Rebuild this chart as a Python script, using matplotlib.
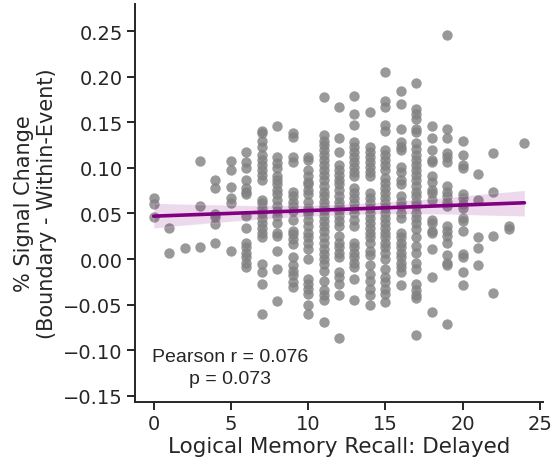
#!/usr/bin/env python3
"""
Boundary signal change vs. delayed logical memory recall.
"""

import numpy as np
import matplotlib
matplotlib.use("Agg")
import matplotlib.pyplot as plt
import seaborn as sns

# Signal change values per recall score (0..24)
s00 = [0.067, 0.060, 0.046]
s01 = [0.034, 0.007]
s02 = [0.012]
s03 = [0.108, 0.058, 0.013]
s04 = [0.087, 0.078, 0.049, 0.046, 0.038, 0.018]
s05 = [0.108, 0.098, 0.079, 0.067, 0.062, 0.009]
s06 = [0.118, 0.107, 0.100, 0.087, 0.078, 0.074, 0.071, 0.047, 0.034,
       0.018, 0.013, 0.007, 0.002, -0.004, -0.009]
s07 = [0.141, 0.138, 0.130, 0.123, 0.114, 0.109, 0.103, 0.098, 0.092,
       0.087, 0.065, 0.062, 0.056, 0.051, 0.045, 0.040, 0.034, 0.029,
       0.024, -0.005, -0.014, -0.027, -0.060]
s08 = [0.146, 0.112, 0.105, 0.100, 0.091, 0.087, 0.082, 0.076, 0.071,
       0.065, 0.058, 0.053, 0.047, 0.040, 0.029, 0.025, 0.009, -0.011,
       -0.046]
s09 = [0.138, 0.134, 0.112, 0.107, 0.074, 0.069, 0.063, 0.058, 0.053,
       0.043, 0.031, 0.027, 0.022, 0.016, 0.002, -0.007, -0.013, -0.018,
       -0.025, -0.031]
s10 = [0.112, 0.109, 0.098, 0.091, 0.085, 0.082, 0.076, 0.071, 0.063,
       0.056, 0.053, 0.049, 0.043, 0.036, 0.029, 0.024, 0.018, 0.011,
       0.000, -0.022, -0.027, -0.033, -0.038, -0.051, -0.060]
s11 = [0.178, 0.136, 0.130, 0.125, 0.120, 0.114, 0.109, 0.103, 0.098,
       0.092, 0.087, 0.080, 0.074, 0.069, 0.063, 0.058, 0.053, 0.047,
       0.042, 0.036, 0.031, 0.024, 0.018, 0.011, 0.005, 0.000, -0.005,
       -0.013, -0.024, -0.034, -0.040, -0.045, -0.069]
s12 = [0.167, 0.133, 0.118, 0.103, 0.098, 0.092, 0.087, 0.082, 0.076,
       0.069, 0.063, 0.058, 0.053, 0.047, 0.042, 0.036, 0.025, 0.018,
       0.013, 0.007, 0.002, -0.014, -0.020, -0.027, -0.040, -0.087]
s13 = [0.179, 0.159, 0.147, 0.129, 0.123, 0.118, 0.112, 0.107, 0.101,
       0.096, 0.091, 0.078, 0.073, 0.067, 0.062, 0.056, 0.051, 0.043,
       0.036, 0.018, 0.013, 0.007, 0.002, -0.004, -0.009, -0.022, -0.045]
s14 = [0.161, 0.123, 0.118, 0.112, 0.107, 0.101, 0.096, 0.091, 0.072,
       0.067, 0.062, 0.056, 0.051, 0.045, 0.040, 0.034, 0.029, 0.024,
       0.018, 0.009, 0.004, -0.007, -0.016, -0.024, -0.033, -0.040, -0.051]
s15 = [0.205, 0.174, 0.167, 0.147, 0.141, 0.120, 0.114, 0.109, 0.103,
       0.098, 0.089, 0.083, 0.078, 0.072, 0.067, 0.062, 0.056, 0.051,
       0.045, 0.040, 0.034, 0.029, 0.024, 0.018, 0.013, 0.007, 0.000,
       -0.011, -0.020, -0.025, -0.033, -0.038, -0.047]
s16 = [0.185, 0.170, 0.143, 0.129, 0.123, 0.120, 0.101, 0.096, 0.087,
       0.082, 0.069, 0.063, 0.058, 0.051, 0.045, 0.029, 0.024, 0.018,
       0.013, 0.007, 0.002, -0.004, -0.009, -0.014, -0.029]
s17 = [0.193, 0.165, 0.159, 0.154, 0.143, 0.139, 0.127, 0.121, 0.114,
       0.109, 0.103, 0.098, 0.092, 0.087, 0.080, 0.074, 0.069, 0.063,
       0.058, 0.051, 0.045, 0.040, 0.033, 0.024, 0.014, 0.007, -0.004,
       -0.011, -0.027, -0.034, -0.040, -0.043, -0.083]
s18 = [0.146, 0.133, 0.120, 0.109, 0.107, 0.091, 0.085, 0.076, 0.072,
       0.065, 0.043, 0.040, 0.031, 0.029, 0.011, -0.020, -0.058]
s19 = [0.246, 0.143, 0.133, 0.116, 0.112, 0.107, 0.080, 0.074, 0.069,
       0.063, 0.058, 0.036, 0.031, 0.025, 0.018, 0.004, -0.004, -0.007,
       -0.071]
s20 = [0.130, 0.114, 0.103, 0.100, 0.071, 0.067, 0.060, 0.056, 0.045,
       0.042, 0.031, 0.005, 0.002, -0.014, -0.029]
s21 = [0.093, 0.065, 0.024, 0.012, -0.007]
s22 = [0.116, 0.074, 0.025, -0.037]
s23 = [0.036, 0.033]
s24 = [0.127]

columns = [s00, s01, s02, s03, s04, s05, s06, s07, s08, s09, s10, s11, s12,
           s13, s14, s15, s16, s17, s18, s19, s20, s21, s22, s23, s24]

recall = np.concatenate([[score] * len(col) for score, col in enumerate(columns)])
signal = np.concatenate(columns)

stats_text = "Pearson r = 0.076\np = 0.073"

sns.set_style("ticks")
plt.rcParams['font.family'] = ['DejaVu Sans']

fig = plt.figure(figsize=(5.54, 4.6), dpi=100)
ax = fig.add_axes([0.244, 0.124, 0.736, 0.865])

sns.regplot(x=recall, y=signal, ax=ax, color='purple', seed=0,
            scatter_kws={'color': 'gray', 'alpha': 0.8, 's': 56, 'linewidths': 0},
            line_kws={'color': 'purple', 'linewidth': 2.6})

ax.set_ylim(-0.157, 0.28)
ax.set_xticks([0, 5, 10, 15, 20, 25])
ax.set_yticks(np.arange(-0.15, 0.26, 0.05))
ax.set_yticklabels([f"{v:.2f}".replace('-', '\u2212') for v in np.arange(-0.15, 0.26, 0.05)])

ax.set_xlabel('Logical Memory Recall: Delayed', fontsize=15.5, color='#262626', labelpad=2)
ax.set_ylabel('% Signal Change\n(Boundary - Within-Event)', fontsize=15,
              color='#262626', labelpad=4)
ax.tick_params(axis='both', labelsize=14, colors='#262626', length=6, width=1.4, pad=3)
for side in ['left', 'bottom']:
    ax.spines[side].set_linewidth(1.4)
    ax.spines[side].set_color('#262626')
sns.despine(ax=ax)

ax.text(4.95, -0.119, stats_text, ha='center', va='center', multialignment='center',
        fontsize=14, family='Liberation Sans', color='#262626', linespacing=1.35)

plt.savefig('out.png', dpi=100)
